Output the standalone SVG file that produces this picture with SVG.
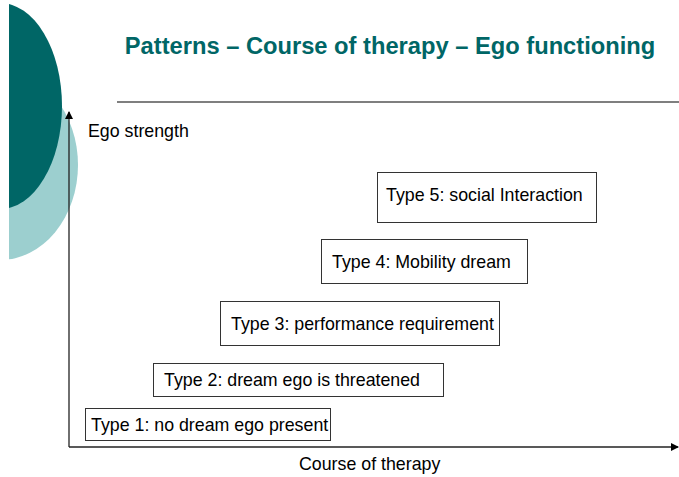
<svg xmlns="http://www.w3.org/2000/svg" width="679" height="477" viewBox="0 0 679 477">
<defs>
<style>
.box{fill:#fff;stroke:#333;stroke-width:1}
.lbl{font-family:"Liberation Sans",Arial,sans-serif;font-size:17.8px;fill:#000}
.ax{stroke:#222;stroke-width:1.3;fill:none}
</style>
<marker id="ah" markerWidth="8" markerHeight="8" refX="7" refY="4" orient="auto" markerUnits="userSpaceOnUse">
<path d="M0,0 L8,4 L0,8 Z" fill="#000"/>
</marker>
<clipPath id="cl"><rect x="9" y="0" width="100" height="300"/></clipPath>
</defs>
<rect width="679" height="477" fill="#fff"/>
<g id="decor" clip-path="url(#cl)">
<ellipse cx="0" cy="165" rx="78" ry="95" fill="#9ccfcf"/>
<ellipse cx="0" cy="106" rx="62" ry="103" fill="#006666"/>
</g>
<text x="390" y="54" text-anchor="middle" font-family="Liberation Sans, Arial, sans-serif" font-size="23.7" font-weight="bold" fill="#006666">Patterns – Course of therapy – Ego functioning</text>
<line x1="117" y1="102" x2="679" y2="102" stroke="#000" stroke-width="1.2"/>
<g id="connectors">
<line class="ax" x1="69" y1="447" x2="69" y2="112" marker-end="url(#ah)"/>
<line class="ax" x1="69" y1="447" x2="678" y2="447" marker-end="url(#ah)"/>
</g>
<text class="lbl" x="88" y="137">Ego strength</text>
<text class="lbl" x="299" y="470">Course of therapy</text>
<g id="type5"><rect class="box" x="377.5" y="172.5" width="219" height="50"/><text class="lbl" x="386" y="201">Type 5: social Interaction</text></g>
<g id="type4"><rect class="box" x="321.5" y="239.5" width="206" height="44"/><text class="lbl" x="332" y="268">Type 4: Mobility dream</text></g>
<g id="type3"><rect class="box" x="220.5" y="301.5" width="279" height="44"/><text class="lbl" x="231" y="330">Type 3: performance requirement</text></g>
<g id="type2"><rect class="box" x="153.5" y="363.5" width="290" height="33"/><text class="lbl" x="164" y="386">Type 2: dream ego is threatened</text></g>
<g id="type1"><rect class="box" x="85.5" y="408.5" width="245" height="32"/><text class="lbl" x="91" y="431">Type 1: no dream ego present</text></g>
</svg>
